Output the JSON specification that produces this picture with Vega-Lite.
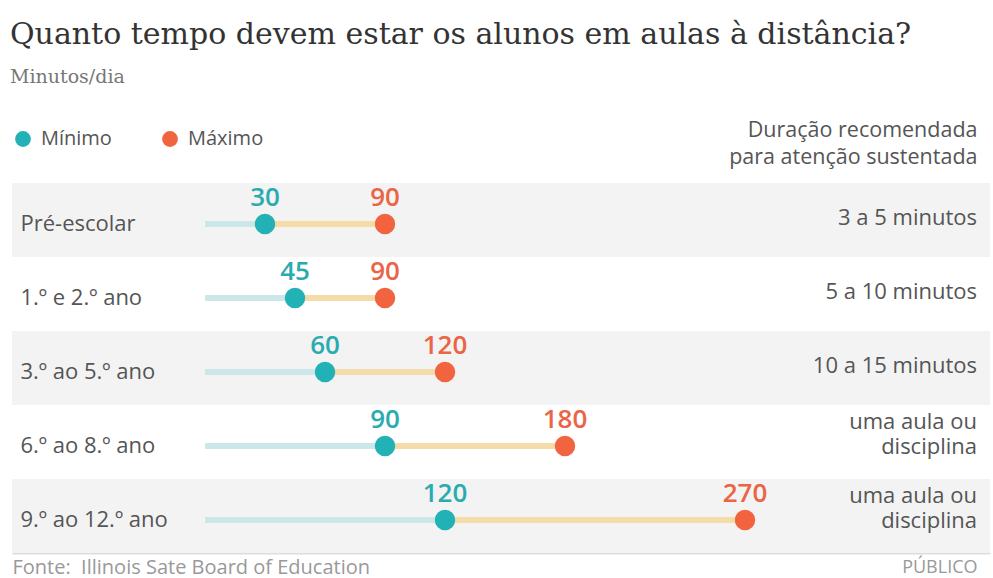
{
  "$schema": "https://vega.github.io/schema/vega-lite/v6.json",
  "width": 978,
  "height": 370,
  "autosize": {"type": "none"},
  "padding": {"left": 12, "top": 183, "right": 3, "bottom": 25},
  "background": "white",
  "title": {
    "text": "Quanto tempo devem estar os alunos em aulas à distância?",
    "subtitle": "Minutos/dia",
    "anchor": "start",
    "frame": "group",
    "font": "DejaVu Serif",
    "fontSize": 30,
    "fontWeight": "normal",
    "color": "#333333",
    "subtitleFont": "DejaVu Serif",
    "subtitleFontSize": 19,
    "subtitleColor": "#777777",
    "subtitlePadding": 18,
    "offset": 32,
    "dx": -2
  },
  "config": {
    "view": {"stroke": null},
    "font": "Open Sans"
  },
  "datasets": {
    "grupos": [
      {"grupo": "Pré-escolar", "minimo": 30, "maximo": 90, "duracao": "3 a 5 minutos"},
      {"grupo": "1.º e 2.º ano", "minimo": 45, "maximo": 90, "duracao": "5 a 10 minutos"},
      {"grupo": "3.º ao 5.º ano", "minimo": 60, "maximo": 120, "duracao": "10 a 15 minutos"},
      {"grupo": "6.º ao 8.º ano", "minimo": 90, "maximo": 180, "duracao": "uma aula ou\ndisciplina"},
      {"grupo": "9.º ao 12.º ano", "minimo": 120, "maximo": 270, "duracao": "uma aula ou\ndisciplina"}
    ]
  },
  "data": {"name": "grupos"},
  "encoding": {
    "y": {
      "field": "grupo",
      "type": "nominal",
      "sort": ["Pré-escolar", "1.º e 2.º ano", "3.º ao 5.º ano", "6.º ao 8.º ano", "9.º ao 12.º ano"],
      "scale": {"paddingInner": 0, "paddingOuter": 0},
      "axis": {
        "orient": "left",
        "domain": false,
        "ticks": false,
        "tickSize": 0,
        "grid": false,
        "labelAlign": "left",
        "labelBaseline": "middle",
        "labelPadding": -8,
        "labelOffset": 4,
        "labelFont": "Open Sans",
        "labelFontSize": 22,
        "labelColor": "#555555",
        "title": ["Duração recomendada", "para atenção sustentada"],
        "titleAngle": 0,
        "titleX": 965,
        "titleY": -42,
        "titleAlign": "right",
        "titleBaseline": "bottom",
        "titleFont": "Open Sans",
        "titleFontSize": 21.5,
        "titleFontWeight": "normal",
        "titleColor": "#555555",
        "titleLineHeight": 27
      }
    }
  },
  "layer": [
    {
      "transform": [{"filter": {"field": "grupo", "oneOf": ["Pré-escolar", "3.º ao 5.º ano", "9.º ao 12.º ano"]}}],
      "mark": {"type": "rect", "color": "#f3f3f3"},
      "encoding": {
        "x": {"value": 0},
        "x2": {"value": "width"}
      }
    },
    {
      "mark": {"type": "bar", "height": 6, "color": "#cce7e7", "yOffset": 4},
      "encoding": {
        "x": {
          "field": "minimo",
          "type": "quantitative",
          "scale": {"domain": [-96.5, 392.5], "nice": false, "zero": false},
          "axis": {
            "orient": "bottom",
            "values": [386],
            "labelExpr": "'PÚBLICO'",
            "labelAlign": "right",
            "labelBaseline": "top",
            "labelPadding": 5,
            "labelFont": "Open Sans",
            "labelFontSize": 18,
            "labelColor": "#999999",
            "ticks": false,
            "tickSize": 0,
            "grid": false,
            "domain": true,
            "domainColor": "#dddddd",
            "domainWidth": 2,
            "title": "Fonte:\u00a0 Illinois Sate Board of Education",
            "titleAnchor": "start",
            "titleAlign": "left",
            "titleBaseline": "top",
            "titleX": 0,
            "titleY": 4,
            "titleFont": "Open Sans",
            "titleFontSize": 20,
            "titleFontWeight": "normal",
            "titleColor": "#999999"
          }
        }
      }
    },
    {
      "mark": {"type": "rule", "strokeWidth": 6, "color": "#f5dba8", "yOffset": 4},
      "encoding": {
        "x": {"field": "minimo", "type": "quantitative"},
        "x2": {"field": "maximo"}
      }
    },
    {
      "transform": [{"fold": ["minimo", "maximo"], "as": ["tipo", "minutos"]}],
      "mark": {"type": "point", "filled": true, "size": 420, "opacity": 1, "yOffset": 4},
      "encoding": {
        "x": {"field": "minutos", "type": "quantitative"},
        "color": {
          "field": "tipo",
          "type": "nominal",
          "scale": {"domain": ["minimo", "maximo"], "range": ["#22b1b5", "#f26440"]},
          "legend": {
            "title": null,
            "orient": "none",
            "legendX": 1,
            "legendY": -54,
            "direction": "horizontal",
            "symbolType": "circle",
            "symbolSize": 250,
            "symbolStrokeWidth": 0,
            "labelFont": "Open Sans",
            "labelFontSize": 20,
            "labelColor": "#555555",
            "labelOffset": 8,
            "columnPadding": 48,
            "labelExpr": "datum.label == 'minimo' ? 'Mínimo' : 'Máximo'"
          }
        }
      }
    },
    {
      "transform": [{"fold": ["minimo", "maximo"], "as": ["tipo", "minutos"]}],
      "mark": {"type": "text", "fontSize": 26, "fontWeight": 600, "baseline": "alphabetic", "align": "center", "yOffset": -14},
      "encoding": {
        "x": {"field": "minutos", "type": "quantitative"},
        "text": {"field": "minutos", "type": "quantitative"},
        "color": {"condition": {"test": "datum.tipo == 'minimo'", "value": "#2aabb0"}, "value": "#ea6445"}
      }
    },
    {
      "transform": [{"filter": "indexof(datum.duracao, '\\n') < 0"}],
      "mark": {"type": "text", "fontSize": 22, "align": "right", "baseline": "middle", "color": "#555555", "yOffset": -2, "dx": -13},
      "encoding": {
        "x": {"value": "width"},
        "text": {"field": "duracao", "type": "nominal"}
      }
    },
    {
      "transform": [{"filter": "indexof(datum.duracao, '\\n') >= 0"}],
      "mark": {"type": "text", "fontSize": 22, "align": "right", "baseline": "middle", "color": "#555555", "lineBreak": "\n", "lineHeight": 25, "yOffset": -20, "dx": -13},
      "encoding": {
        "x": {"value": "width"},
        "text": {"field": "duracao", "type": "nominal"}
      }
    }
  ]
}
